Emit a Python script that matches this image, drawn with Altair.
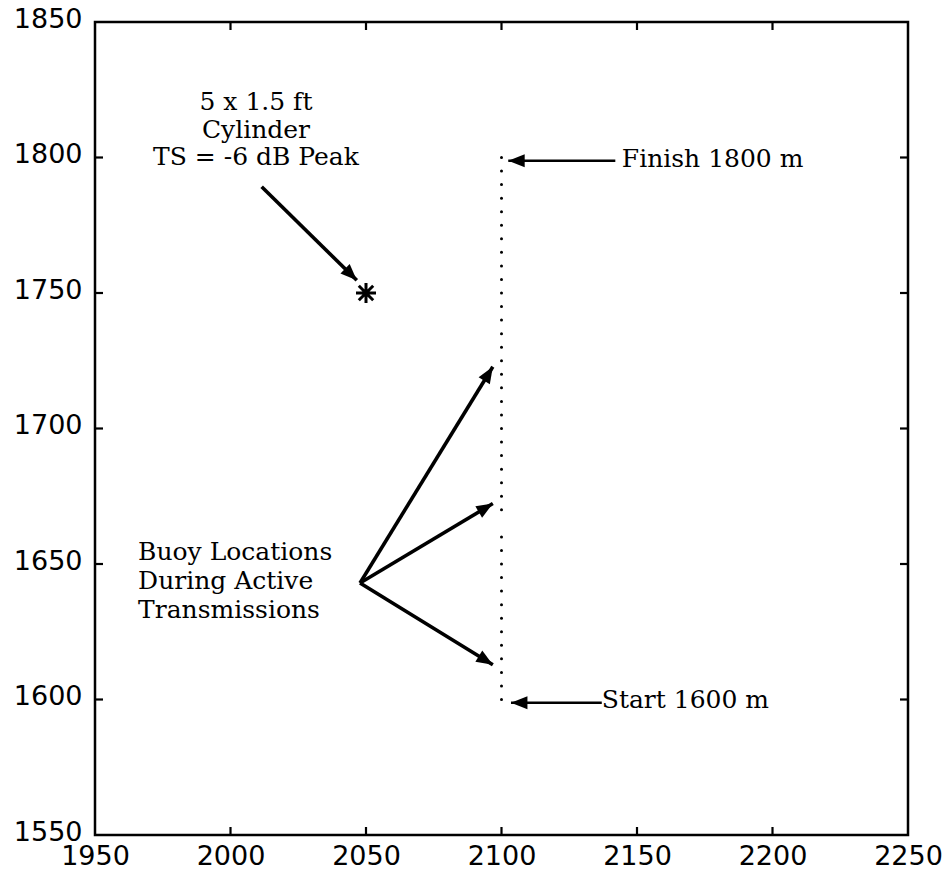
import math
import altair as alt
import pandas as pd

# ---------------- data ----------------
x_ticks = [2000, 2050, 2100, 2150, 2200]
y_ticks = [1600, 1650, 1700, 1750, 1800]
x_labels = [1950, 2000, 2050, 2100, 2150, 2200, 2250]
y_labels = [1550, 1600, 1650, 1700, 1750, 1800, 1850]

# buoy track (dotted) at x = 2100
track_y = [1800, 1795, 1790, 1785, 1780, 1775, 1770, 1765, 1760, 1755,
           1750, 1745, 1740, 1735, 1730, 1725, 1720, 1715, 1710, 1705,
           1700, 1695, 1690, 1685, 1680, 1675, 1670, 1660, 1655, 1650,
           1645, 1640, 1635, 1630, 1625, 1620, 1615, 1610, 1605, 1600]
track_x = [2100] * len(track_y)

# target
target_x = [2050]
target_y = [1750]

# annotation arrows: start -> tip
arrow_name = ["cyl", "b1", "b2", "b3", "finish", "start"]
arrow_x0 = [2011.5, 2047.8, 2047.8, 2047.8, 2142.0, 2137.0]
arrow_y0 = [1789.2, 1643.0, 1643.0, 1643.0, 1798.8, 1598.8]
arrow_x1 = [2046.6, 2096.8, 2096.8, 2096.8, 2102.5, 2103.5]
arrow_y1 = [1754.7, 1722.8, 1672.3, 1612.8, 1798.8, 1598.8]
arrow_w = [3.6, 3.6, 3.6, 3.6, 2.5, 2.5]

# text annotations
ctext = ["5 x 1.5 ft", "Cylinder", "TS = -6 dB Peak"]
ctext_x = [2009.4, 2009.4, 2009.4]
ctext_y = [1817.5, 1807.1, 1797.2]

ltext = ["Buoy Locations", "During Active", "Transmissions",
         "Finish 1800 m", "Start 1600 m"]
ltext_x = [1965.9, 1965.9, 1965.9, 2144.4, 2137.0]
ltext_y = [1651.3, 1640.9, 1630.2, 1796.5, 1596.7]

# ---------------- tables ----------------
XD = [1950, 2250]
YD = [1550, 1850]
xs = alt.Scale(domain=XD, nice=False, zero=False)
ys = alt.Scale(domain=YD, nice=False, zero=False)

TL = 8.0 / 813 * 300  # inward tick length in data units

arrows = pd.DataFrame(dict(name=arrow_name, x0=arrow_x0, y0=arrow_y0,
                           x1=arrow_x1, y1=arrow_y1, w=arrow_w))
arrows["angle"] = [
    (math.degrees(math.atan2(x1 - x0, y1 - y0)) + 360) % 360
    for x0, y0, x1, y1 in zip(arrow_x0, arrow_y0, arrow_x1, arrow_y1)
]

ticks_rows = []
for t in x_ticks:
    ticks_rows.append(dict(x=t, x2=t, y=YD[0], y2=YD[0] + TL))
    ticks_rows.append(dict(x=t, x2=t, y=YD[1], y2=YD[1] - TL))
for t in y_ticks:
    ticks_rows.append(dict(x=XD[0], x2=XD[0] + TL, y=t, y2=t))
    ticks_rows.append(dict(x=XD[1], x2=XD[1] - TL, y=t, y2=t))
ticks_df = pd.DataFrame(ticks_rows)

axis_x = alt.Axis(values=x_labels, format="d", title=None, ticks=False,
                  tickSize=0, domain=False, grid=False,
                  labelFont="DejaVu Sans", labelFontSize=27,
                  labelColor="black", labelPadding=8,
                  labelFlush=False, labelOverlap=False)
axis_y = alt.Axis(values=y_labels, format="d", title=None, ticks=False,
                  tickSize=0, domain=False, grid=False,
                  labelFont="DejaVu Sans", labelFontSize=27,
                  labelColor="black", labelPadding=13, labelOffset=-3,
                  labelFlush=False, labelOverlap=False)

base_axes = alt.Chart(pd.DataFrame({"x": [1950], "y": [1550]})).mark_point(
    opacity=0).encode(
    x=alt.X("x:Q", scale=xs, axis=axis_x),
    y=alt.Y("y:Q", scale=ys, axis=axis_y),
)

tick_layer = alt.Chart(ticks_df).mark_rule(color="black", strokeWidth=2.2).encode(
    x=alt.X("x:Q", scale=xs), x2="x2:Q",
    y=alt.Y("y:Q", scale=ys), y2="y2:Q",
)

track = alt.Chart(pd.DataFrame({"x": track_x, "y": track_y})).mark_circle(
    color="black", size=9, opacity=1).encode(
    x=alt.X("x:Q", scale=xs), y=alt.Y("y:Q", scale=ys))

star_path = ("M-1,0L1,0M0,-1L0,1M-0.72,-0.72L0.72,0.72M-0.72,0.72L0.72,-0.72")
star = alt.Chart(pd.DataFrame({"x": target_x, "y": target_y})).mark_point(
    shape=star_path, size=400, filled=False, color="black", strokeWidth=3,
    opacity=1).encode(
    x=alt.X("x:Q", scale=xs), y=alt.Y("y:Q", scale=ys))

shafts = alt.Chart(arrows).mark_rule(color="black").encode(
    x=alt.X("x0:Q", scale=xs), x2="x1:Q",
    y=alt.Y("y0:Q", scale=ys), y2="y1:Q",
    strokeWidth=alt.StrokeWidth("w:Q", scale=None, legend=None),
)

head_path = "M0,0L-0.8,2L0.8,2Z"
heads = alt.Chart(arrows).mark_point(
    shape=head_path, size=270, filled=True, color="black", opacity=1,
    strokeWidth=0).encode(
    x=alt.X("x1:Q", scale=xs), y=alt.Y("y1:Q", scale=ys),
    angle=alt.Angle("angle:Q", scale=None),
)

ctext_layer = alt.Chart(pd.DataFrame({"t": ctext, "x": ctext_x, "y": ctext_y})).mark_text(
    font="DejaVu Serif", fontSize=25, align="center", baseline="alphabetic",
    color="black").encode(
    x=alt.X("x:Q", scale=xs), y=alt.Y("y:Q", scale=ys), text="t:N")

ltext_layer = alt.Chart(pd.DataFrame({"t": ltext, "x": ltext_x, "y": ltext_y})).mark_text(
    font="DejaVu Serif", fontSize=25, align="left", baseline="alphabetic",
    color="black").encode(
    x=alt.X("x:Q", scale=xs), y=alt.Y("y:Q", scale=ys), text="t:N")

chart = alt.layer(
    base_axes, tick_layer, track, star, shafts, heads, ctext_layer, ltext_layer
).properties(
    width=813, height=813,
    autosize=alt.AutoSizeParams(type="none"),
    padding={"left": 95, "top": 22, "right": 40, "bottom": 42},
    background="white",
).configure_view(
    stroke="black", strokeWidth=2.5,
)

chart.save("out.html", embed_options={"renderer": "svg", "actions": False})
